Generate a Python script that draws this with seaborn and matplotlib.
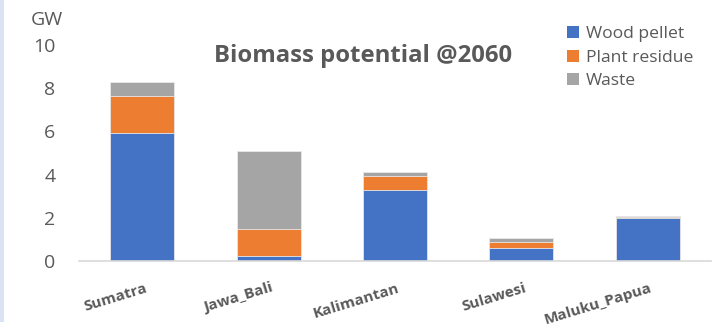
import matplotlib
matplotlib.use("Agg")
import matplotlib.pyplot as plt
import seaborn as sns
import numpy as np
import pandas as pd
from matplotlib.patches import Rectangle
from matplotlib.transforms import offset_copy

regions = ["Sumatra", "Jawa_Bali", "Kalimantan", "Sulawesi", "Maluku_Papua"]
wood_pellet = [5.94, 0.23, 3.28, 0.60, 1.98]
plant_residue = [1.72, 1.23, 0.67, 0.27, 0.03]
waste = [0.65, 3.64, 0.15, 0.17, 0.05]
series_names = ["Wood pellet", "Plant residue", "Waste"]
colors = ["#4472C4", "#ED7D31", "#A5A5A5"]

sns.set_theme(style="white")
plt.rcParams['font.family'] = ['Open Sans', 'DejaVu Sans']

fig = plt.figure(figsize=(7.13, 3.3), dpi=100)
fig.patches.append(Rectangle((0, 1 - 322/330), 4/713, 322/330, transform=fig.transFigure,
                             facecolor="#DAE3F3", edgecolor="none", zorder=0))
ax = fig.add_axes([79/713, (330 - 260.7)/330, (711 - 79)/713, (260.7 - 45.2)/330])

w = np.array(wood_pellet)
p = np.array(plant_residue)
s = np.array(waste)
cum = [w + p + s, w + p, w]
order = [2, 1, 0]
for c, idx in zip(cum, order):
    df = pd.DataFrame({"region": regions, "value": c})
    sns.barplot(data=df, x="region", y="value", color=colors[idx], saturation=1,
                width=0.505, edgecolor="#E8E8E8", linewidth=0.6, ax=ax, zorder=2)

ax.set_xlim(-0.5, 4.5)
ax.set_ylim(0, 10)
ax.set_yticks([0, 2, 4, 6, 8, 10])
ax.set_xlabel("")
ax.set_ylabel("")
for sp in ["top", "right", "left"]:
    ax.spines[sp].set_visible(False)
ax.spines["bottom"].set_color("#D9D9D9")
ax.spines["bottom"].set_linewidth(1.2)
ax.tick_params(axis="y", labelsize=14, labelcolor="#595959", length=0, pad=17)
ax.tick_params(axis="x", length=0, pad=6)
ax.set_xticks(range(5))
ax.set_xticklabels(regions)
for lbl in ax.get_xticklabels():
    lbl.set_rotation(17)
    lbl.set_ha("right")
    lbl.set_va("top")
    lbl.set_rotation_mode("anchor")
    lbl.set_fontweight("bold")
    lbl.set_fontsize(11)
    lbl.set_color("#595959")
    lbl.set_transform(offset_copy(lbl.get_transform(), fig=fig, x=2, y=-12, units="dots"))

fig.text(47/713, 1 - 25/330, "GW", fontsize=14, color="#595959", ha="center", va="baseline")
fig.text(362.7/713, 1 - 61.7/330, "Biomass potential @2060", fontsize=17.2, fontweight="bold",
         color="#595959", ha="center", va="baseline")

handles = [Rectangle((0, 0), 1, 1, facecolor=c, edgecolor="none") for c in colors]
leg = fig.legend(handles, series_names, loc="upper left", bbox_to_anchor=(553/713, 1 - 12/330),
                 frameon=False, fontsize=12.6, handlelength=0.7, handleheight=0.7,
                 handletextpad=0.4, labelspacing=0.42, borderpad=0.3)
for t in leg.get_texts():
    t.set_color("#595959")

fig.savefig("out.png", dpi=100)
